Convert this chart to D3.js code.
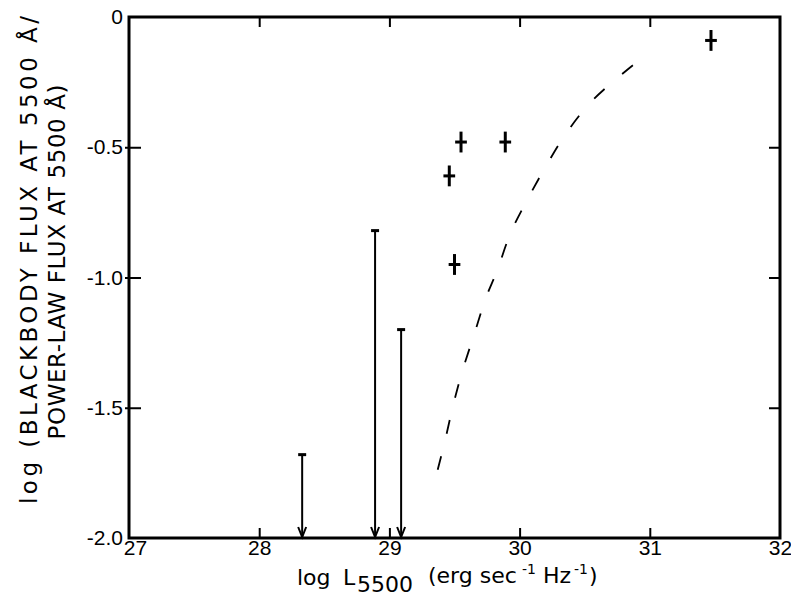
<!DOCTYPE html>
<html>
<head>
<meta charset="utf-8">
<script src="https://cdn.jsdelivr.net/npm/d3@7"></script>
<style>
  body { margin: 0; background: #fff; }
  svg { display: block; font-family: "DejaVu Sans", sans-serif; }
</style>
</head>
<body>
<svg id="chart" width="791" height="596"></svg>
<script>
'use strict';
// measured points with error bars
const ptX = [29.46, 29.55, 29.89, 29.50, 31.47];
const ptY = [-0.61, -0.48, -0.48, -0.95, -0.09];
const errX = [0.045, 0.045, 0.045, 0.045, 0.045];
const errY = [0.04, 0.04, 0.04, 0.04, 0.04];

// upper limits (arrows down to the axis)
const limX = [28.33, 28.89, 29.09];
const limY = [-1.68, -0.82, -1.20];

// dashed model curve
const curveX = [29.36, 29.43, 29.49, 29.56, 29.65, 29.74, 29.83, 29.93, 30.05, 30.20, 30.36, 30.56, 30.87];
const curveY = [-1.76, -1.62, -1.49, -1.36, -1.22, -1.08, -0.97, -0.83, -0.71, -0.575, -0.445, -0.32, -0.185];

// ticks
const xTicks = [27, 28, 29, 30, 31, 32];
const xInner = [28, 29, 30, 31];
const yTicks = [0, -0.5, -1.0, -1.5, -2.0];
const yInner = [-0.5, -1.0, -1.5];

const svg = d3.select('#chart');
const marg = { top: 17, right: 11, bottom: 58, left: 129 };
const width = 791, height = 596;

const xScale = d3.scaleLinear().domain([27, 32]).range([marg.left, width - marg.right]);
const yScale = d3.scaleLinear().domain([-2, 0]).range([height - marg.bottom, marg.top]);

const fmtY = (d) => (d === 0 ? '0' : d.toFixed(1));

// bottom axis: labels + ticks pointing up
const bottom = svg.append('g')
  .attr('transform', `translate(0,${yScale(-2)})`)
  .call(d3.axisBottom(xScale).tickValues(xTicks).tickSize(0).tickPadding(2).tickFormat(d3.format('d')));
bottom.selectAll('text').attr('font-size', 21).attr('fill', '#000')
  .attr('dx', (d) => (d === 27 ? 6 : 0));
svg.append('g')
  .attr('transform', `translate(0,${yScale(-2)})`)
  .call(d3.axisBottom(xScale).tickValues(xInner).tickSize(-10).tickFormat(''));

// top axis: ticks pointing down
svg.append('g')
  .attr('transform', `translate(0,${yScale(0)})`)
  .call(d3.axisTop(xScale).tickValues(xInner).tickSize(-10).tickFormat(''));

// left axis: labels, ticks mostly inside
const left = svg.append('g')
  .attr('transform', `translate(${xScale(27)},0)`)
  .call(d3.axisLeft(yScale).tickValues(yTicks).tickSize(0).tickPadding(6).tickFormat(fmtY));
left.selectAll('text').attr('font-size', 21).attr('fill', '#000');
svg.append('g')
  .attr('transform', `translate(${xScale(27)},0)`)
  .call(d3.axisLeft(yScale).tickValues(yInner).tickSize(0).tickFormat(''))
  .selectAll('.tick line').attr('x1', -4).attr('x2', 12);

// right axis: ticks pointing in
svg.append('g')
  .attr('transform', `translate(${xScale(32)},0)`)
  .call(d3.axisRight(yScale).tickValues(yInner).tickSize(-11).tickFormat(''));

svg.selectAll('.domain').remove();
svg.selectAll('.tick line').attr('stroke', '#000').attr('stroke-width', 2);

// frame
svg.append('rect')
  .attr('x', xScale(27)).attr('y', yScale(0))
  .attr('width', xScale(32) - xScale(27)).attr('height', yScale(-2) - yScale(0))
  .attr('fill', 'none').attr('stroke', '#000').attr('stroke-width', 3);

// dashed curve, pattern lined up so it ends on a dash
const curveData = curveX.map((d, i) => [d, curveY[i]]);
const curvePath = svg.append('path')
  .datum(curveData)
  .attr('d', d3.line().x((d) => xScale(d[0])).y((d) => yScale(d[1])).curve(d3.curveCatmullRom))
  .attr('fill', 'none').attr('stroke', '#000').attr('stroke-width', 1.8)
  .attr('stroke-dasharray', '14,23');
const plen = curvePath.node().getTotalLength();
curvePath.attr('stroke-dashoffset', -(plen - 14));

// upper limits
const lims = svg.append('g').attr('stroke', '#000').attr('stroke-width', 2).attr('fill', 'none');
limX.forEach((lx, i) => {
  const px = xScale(lx), top = yScale(limY[i]), bot = yScale(-2) - 1;
  lims.append('line').attr('x1', px).attr('x2', px).attr('y1', top).attr('y2', bot);
  lims.append('line').attr('x1', px - 4).attr('x2', px + 4).attr('y1', top).attr('y2', top).attr('stroke-width', 3);
  lims.append('path').attr('d', `M${px - 4},${bot - 10}L${px},${bot}L${px + 4},${bot - 10}`);
});

// points with error bars
const pts = svg.append('g').attr('stroke', '#000').attr('stroke-width', 3);
ptX.forEach((px, i) => {
  pts.append('line')
    .attr('x1', xScale(px - errX[i])).attr('x2', xScale(px + errX[i]))
    .attr('y1', yScale(ptY[i])).attr('y2', yScale(ptY[i]));
  pts.append('line')
    .attr('x1', xScale(px)).attr('x2', xScale(px))
    .attr('y1', yScale(ptY[i] + errY[i])).attr('y2', yScale(ptY[i] - errY[i]));
});

// axis titles
const xt = svg.append('text').attr('y', 585).attr('font-size', 22).attr('fill', '#000');
xt.append('tspan').attr('x', 297).text('log');
xt.append('tspan').attr('x', 343).text('L');
xt.append('tspan').attr('x', 357).attr('dy', 7).text('5500');
xt.append('tspan').attr('x', 428).attr('dy', -9).text('(erg sec');
xt.append('tspan').attr('x', 522).attr('dy', -9).attr('font-size', 14).text('-1');
xt.append('tspan').attr('x', 543).attr('dy', 9).text('Hz');
xt.append('tspan').attr('x', 574).attr('dy', -9).attr('font-size', 14).text('-1');
xt.append('tspan').attr('x', 589).attr('dy', 9).text(')');

svg.append('text')
  .attr('transform', 'translate(37,260) rotate(-90)')
  .attr('text-anchor', 'middle').attr('font-size', 23)
  .attr('textLength', 488).attr('lengthAdjust', 'spacing')
  .text('log (BLACKBODY FLUX AT 5500 Å/');
svg.append('text')
  .attr('transform', 'translate(65,262) rotate(-90)')
  .attr('text-anchor', 'middle').attr('font-size', 23)
  .attr('textLength', 355).attr('lengthAdjust', 'spacing')
  .text('POWER-LAW FLUX AT 5500 Å)');
</script>
</body>
</html>
